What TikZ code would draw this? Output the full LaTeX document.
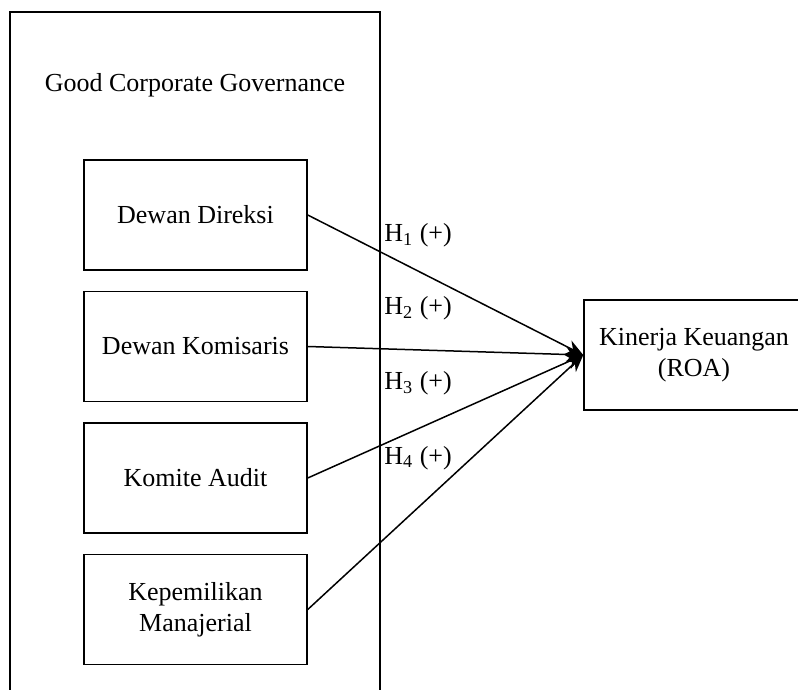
\documentclass[tikz,border=0pt]{standalone}
\usepackage{fontspec}
\setmainfont{Liberation Serif}
\usetikzlibrary{positioning,arrows.meta}
\tikzset{var node/.style={rectangle, draw, line width=0.75pt, minimum width=111.5pt, minimum height=55pt, align=center, inner sep=2pt, font=\fontsize{13}{15.5}\selectfont}, }
\tikzset{hyp label/.style={anchor=west, inner sep=0pt, font=\fontsize{13}{15.5}\selectfont}, }
\tikzset{hyp arrow/.style={draw, line width=0.75pt, -{Stealth[length=8.5pt, width=7.5pt]}}, }

\begin{document}
\begin{tikzpicture}[x=0.5pt, y=-0.5pt]
	\clip (0,0) rectangle (798,690);
	\fill[white] (0,0) rectangle (798,690);
	% outer frame, open at the bottom edge
	\draw[line width=0.75pt] (10,720) -- (10,12) -- (380,12) -- (380,720);
	\node[font=\fontsize{13}{15.5}\selectfont] (gcg) at (195,85) {Good Corporate Governance};
	\node[var node] (direksi) at (195.5,215) {Dewan Direksi};
	\node[var node] (komisaris) [below = 10pt of direksi] {Dewan Komisaris};
	\node[var node] (audit) [below = 10pt of komisaris] {Komite Audit};
	\node[var node] (manajerial) [below = 10pt of audit] {Kepemilikan\\Manajerial};
	\node[var node, minimum width=110pt] (roa) at (694,355) {Kinerja Keuangan\\(ROA)};
	\node[hyp label] (h1) at (384,235) {H\textsubscript{1} (+)};
	\node[hyp label] (h2) at (384,308) {H\textsubscript{2} (+)};
	\node[hyp label] (h3) at (384,383) {H\textsubscript{3} (+)};
	\node[hyp label] (h4) at (384,458) {H\textsubscript{4} (+)};
	\path
		(direksi.east) edge[hyp arrow] (roa.west)
		(komisaris.east) edge[hyp arrow] (roa.west)
		(audit.east) edge[hyp arrow] (roa.west)
		(manajerial.east) edge[hyp arrow] (roa.west)
		;
\end{tikzpicture}
\end{document}
